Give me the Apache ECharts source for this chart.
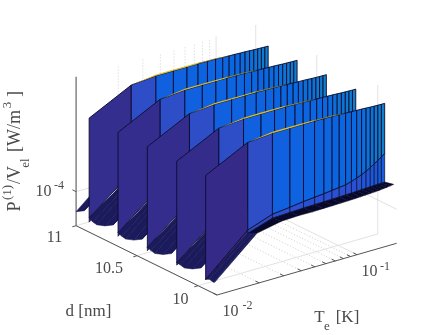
<!DOCTYPE html>
<html>
<head>
<meta charset="utf-8">
<style>html,body{margin:0;background:#fff}#chart{width:436px;height:335px}</style>
<script src="https://cdn.jsdelivr.net/npm/echarts@6/dist/echarts.min.js"></script>
</head>
<body>
<div id="chart"></div>
<script>
// electron temperature grid [K]
const tempK = [0.01,0.02,0.03,0.04,0.05,0.06,0.07,0.08,0.09,0.1,0.11,0.12,0.13,0.14,0.15,0.16,0.17,0.18,0.19];
// film thickness of each ridge [nm], back to front
const ridgeD = [10.893,10.656,10.416,10.175,9.938];
// log10 of P/V [W/m^3] along each ridge
const peakLogP = [-3.385,-3.224,-3.208,-3.208,-3.208,-3.208,-3.210,-3.211,-3.214,-3.216,-3.217,-3.219,-3.220,-3.222,-3.224,-3.225,-3.226,-3.227,-3.227];
const shoulderLogP = [-4.185,-3.898,-3.831,-3.816,-3.802,-3.794,-3.787,-3.779,-3.773,-3.767,-3.754,-3.739,-3.724,-3.708,-3.689,-3.670,-3.650,-3.631,-3.612];
const baseLogP = [-4.185,-3.924,-3.862,-3.857,-3.853,-3.851,-3.850,-3.848,-3.847,-3.845,-3.844,-3.842,-3.840,-3.839,-3.837,-3.836,-3.835,-3.834,-3.833];
const valleyLogP = [-4.177,-3.890,-3.851,-3.846,-3.848,-3.846,-3.845,-3.843,-3.842,-3.840,-3.838,-3.836,-3.834,-3.832,-3.830,-3.826,-3.824,-3.820,-3.816];
// height of the thin top face above the peak
const crestLogP = [0,0,0.010,0.010,0.009,0.008,0.007,0.006,0.004,0,0,0,0,0,0,0,0,0,0];
// wall foot at the lowest temperature, one per ridge
const firstBaseLogP = [-4.151,-4.157,-4.159,-4.166,-4.185];
// valley between two ridges: distance in d from the ridge, value at 0.01 K and 0.02 K
const valleyOffsetD = [0,0.03,0.063,0.13,0.197,0.23];
const valleyFirstLogP = [-4.185,-4.170,-4.177,-4.154,-4.116,-4.062];
const valleySecondLogP = [-3.924,-3.908,-3.893,-3.877,-3.862,-3.847];
// axis ticks
const tempMinorTicks = [0.02,0.03,0.04,0.05,0.06,0.07,0.08,0.09];
const tempMajorTicks = [0.01,0.1];
const dTicks = [10,10.5,11];
const logPTicks = [-4];

const dMin = 9.845, dMax = 11, tMin = 0.01, tMax = 0.192, zMin = -4.262, zMax = -3.116;
const ridgeFrontEdge = 0.074;

// oblique view of the MATLAB box, result goes through the hidden cartesian axes
function project(t, d, z) {
  const lt = Math.log10(t / tMin);
  return [
    217 + 140 * lt - 122 * (d - dMin),
    295 - 40.3 * lt - 60 * (d - dMin) - 130 * (z - zMin)
  ];
}

const wallStops = [[-4.185,'#352a87'],[-3.895,'#2d4ec8'],[-3.845,'#2a50d4'],[-3.831,'#1060e0'],[-3.754,'#0a68e0'],[-3.6,'#1285c8']];
function wallColor(z) {
  for (let i = 1; i < wallStops.length; i++) {
    if (z <= wallStops[i][0]) {
      const a = wallStops[i - 1], b = wallStops[i];
      return echarts.color.lerp((z - a[0]) / (b[0] - a[0]), [a[1], b[1]]);
    }
  }
  return wallStops[wallStops.length - 1][1];
}

const gridShapes = [];
const axisShapes = [];
const surfaceShapes = [];
function line(list, pts, stroke, width, dash) {
  list.push({ pts: pts, fill: null, stroke: stroke, width: width, dash: dash });
}
function poly(pts, fill, stroke, width) {
  surfaceShapes.push({ pts: pts, fill: fill, stroke: stroke, width: width, closed: true });
}

// back and side walls, floor
tempMinorTicks.forEach(t => {
  line(gridShapes, [project(t, dMin, zMin), project(t, dMax, zMin), project(t, dMax, zMax)], '#cfcfcf', 1, [1, 2]);
});
tempMajorTicks.forEach(t => {
  line(gridShapes, [project(t, dMin, zMin), project(t, dMax, zMin), project(t, dMax, zMax)], '#e2e2e2', 1);
});
dTicks.forEach(d => {
  line(gridShapes, [project(tMin, d, zMin), project(tMax, d, zMin), project(tMax, d, zMax)], '#e2e2e2', 1);
});
logPTicks.forEach(z => {
  line(gridShapes, [project(tMax, dMin, z), project(tMax, dMax, z), project(tMin, dMax, z)], '#e2e2e2', 1);
});

// axes and ticks
line(axisShapes, [project(tMin, dMax, zMin), project(tMin, dMax, zMax)], '#555', 1);
line(axisShapes, [project(tMin, dMin, zMin), project(tMin, dMax, zMin)], '#555', 1);
line(axisShapes, [project(tMin, dMin, zMin), project(tMax, dMin, zMin)], '#555', 1);
tempMinorTicks.concat(tempMajorTicks).forEach(t => {
  line(axisShapes, [project(t, dMin, zMin), project(t, dMin + 0.03, zMin)], '#555', 1);
});
dTicks.forEach(d => {
  line(axisShapes, [project(tMin, d, zMin), project(tMin * 0.94, d, zMin)], '#555', 1);
});
logPTicks.forEach(z => {
  line(axisShapes, [project(tMin, dMax, z), project(tMin, dMax + 0.03, z)], '#555', 1);
});

function valleyWedge(d, firstValue, minD) {
  for (let i = 0; i < valleyOffsetD.length - 1; i++) {
    let dA = d - valleyOffsetD[i], dB = d - valleyOffsetD[i + 1];
    if (dB >= dMax) continue;
    let a1 = i === 0 ? firstValue : valleyFirstLogP[i], b1 = valleyFirstLogP[i + 1];
    let a2 = valleySecondLogP[i], b2 = valleySecondLogP[i + 1];
    if (dA <= minD) break;
    if (dB < minD) {
      const f = (dA - minD) / (dA - dB);
      b1 = a1 + (b1 - a1) * f;
      b2 = a2 + (b2 - a2) * f;
      dB = minD;
    }
    poly([project(tempK[0], dA, a1), project(tempK[1], dA, a2), project(tempK[1], dB, b2), project(tempK[0], dB, b1)], '#1b1a5c', '#14134a', 0.5);
  }
}

// the part of the next ridge that is cut by the d = 11 plane
valleyWedge(ridgeD[0] + (ridgeD[0] - ridgeD[1]), firstBaseLogP[0], dMin);

ridgeD.forEach((d, r) => {
  const edge = '#0c0c2c';
  for (let k = 0; k < tempK.length - 1; k++) {
    const t0 = tempK[k], t1 = tempK[k + 1];
    const base0 = k === 0 ? firstBaseLogP[r] : baseLogP[k];
    // lower row of the wall
    poly([project(t0, d, base0), project(t0, d, shoulderLogP[k]), project(t1, d, shoulderLogP[k + 1]), project(t1, d, baseLogP[k + 1])],
      wallColor(base0), edge, 0.7);
    // upper row of the wall
    poly([project(t0, d, k === 0 ? base0 : shoulderLogP[k]), project(t0, d, peakLogP[k]), project(t1, d, peakLogP[k + 1]), project(t1, d, shoulderLogP[k + 1])],
      wallColor(k === 0 ? base0 : shoulderLogP[k]), edge, 0.9);
    // thin lit face at the crest
    if (crestLogP[k] > 0 || crestLogP[k + 1] > 0) {
      poly([project(t0, d, peakLogP[k]), project(t0, d, peakLogP[k] + crestLogP[k]), project(t1, d, peakLogP[k + 1] + crestLogP[k + 1]), project(t1, d, peakLogP[k + 1])],
        k < 5 ? '#e2bc24' : '#a08a28', null, 0);
    }
    // valley ribbon in front of the wall
    if (k > 0) {
      poly([project(t0, d, baseLogP[k]), project(t1, d, baseLogP[k + 1]), project(t1, d - ridgeFrontEdge, valleyLogP[k + 1]), project(t0, d - ridgeFrontEdge, valleyLogP[k])],
        '#08082a', '#08082a', 0.5);
    }
  }
  valleyWedge(d, firstBaseLogP[r], r === ridgeD.length - 1 ? d - ridgeFrontEdge : dMin);
});

function shapeSeries(name, shapes) {
  return {
    name: name,
    type: 'custom',
    coordinateSystem: 'cartesian2d',
    silent: true,
    clip: false,
    animation: false,
    encode: { x: 0, y: 1 },
    data: shapes.map((s, i) => [s.pts[0][0], s.pts[0][1], i]),
    renderItem: function (params, api) {
      const s = shapes[api.value(2)];
      const points = s.pts.map(p => api.coord(p));
      return {
        type: s.closed ? 'polygon' : 'polyline',
        shape: { points: points },
        style: {
          fill: s.fill || 'none',
          stroke: s.stroke || 'none',
          lineWidth: s.width,
          lineDash: s.dash || null
        }
      };
    }
  };
}

function label(text, x, y, size, rotation) {
  return {
    type: 'text',
    x: x,
    y: y,
    rotation: rotation || 0,
    silent: true,
    style: {
      text: text,
      fill: '#4a4a4a',
      fontFamily: '"Liberation Serif"',
      fontSize: size,
      textAlign: 'center',
      textVerticalAlign: 'middle'
    }
  };
}
const up = Math.PI / 2;

const option = {
  backgroundColor: '#fff',
  animation: false,
  grid: { left: 0, right: 0, top: 0, bottom: 0 },
  xAxis: { type: 'value', min: 0, max: 436, show: false },
  yAxis: { type: 'value', min: 0, max: 335, inverse: true, show: false },
  series: [
    shapeSeries('grid', gridShapes),
    shapeSeries('axes', axisShapes),
    shapeSeries('surface', surfaceShapes)
  ],
  graphic: [
    label('10', 43.5, 192, 16), label('-4', 59, 186, 12),
    label('11', 54.5, 238, 16),
    label('10.5', 109, 269, 16),
    label('10', 180.5, 300, 16),
    label('d [nm]', 88.5, 311.5, 17),
    label('10', 230.5, 312, 16), label('-2', 247.5, 306, 12),
    label('10', 369.5, 272, 16), label('-1', 385, 266.5, 12),
    label('T', 319.5, 318, 17), label('e', 327, 327, 13), label('[K]', 347.5, 318, 17),
    label('P', 15, 206.5, 18, up), label('(1)', 8, 192.5, 13, up),
    label('/V', 15, 175, 18, up), label('el', 26, 163, 13, up),
    label('[W/m', 15, 131, 18, up), label('3', 8, 105, 13, up), label(']', 15, 94, 18, up)
  ]
};

const chart = echarts.init(document.getElementById('chart'));
chart.setOption(option);
window.addEventListener('resize', function () { chart.resize(); });
</script>
</body>
</html>
